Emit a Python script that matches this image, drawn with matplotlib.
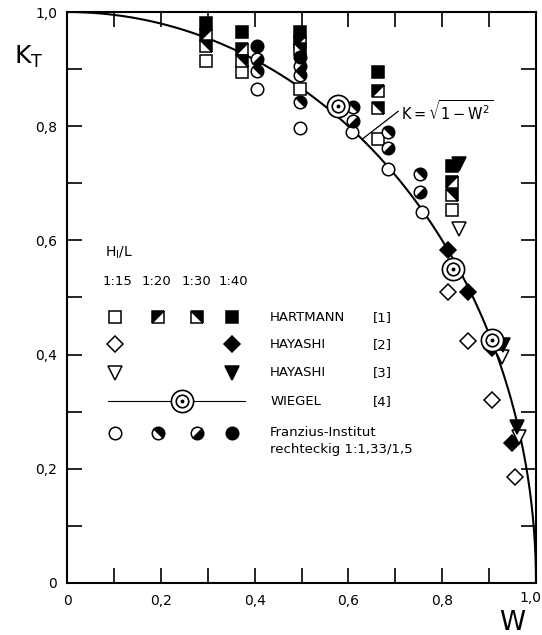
import numpy as np
import matplotlib
matplotlib.use('Agg')
import matplotlib.pyplot as plt
from matplotlib.markers import MarkerStyle
from matplotlib.transforms import Affine2D, ScaledTranslation

plt.rcParams['font.family'] = ['DejaVu Sans']

# Hartmann [1], squares, one column of W values, K per slope H_I/L
hart_w = [0.296, 0.373, 0.497, 0.663, 0.821]
hart_15 = [0.915, 0.895, 0.865, 0.777, 0.654]
hart_20 = [0.960, 0.935, 0.948, 0.861, 0.703]
hart_30 = [0.940, 0.915, 0.935, 0.832, 0.680]
hart_40 = [0.980, 0.965, 0.965, 0.895, 0.730]

# Hayashi [2], diamonds
hay2_w_15 = [0.812, 0.855, 0.906, 0.955]
hay2_k_15 = [0.509, 0.423, 0.321, 0.186]
hay2_w_40 = [0.812, 0.855, 0.906, 0.949]
hay2_k_40 = [0.584, 0.509, 0.412, 0.246]

# Hayashi [3], triangles
hay3_w_15 = [0.836, 0.928, 0.964]
hay3_k_15 = [0.620, 0.395, 0.256]
hay3_w_40 = [0.836, 0.930, 0.959]
hay3_k_40 = [0.733, 0.416, 0.274]

# Wiegel [4]
wiegel_w = [0.578, 0.823, 0.906]
wiegel_k = [0.835, 0.550, 0.426]

# Franzius-Institut, circles
fr_w_15 = [0.405, 0.497, 0.608, 0.684, 0.757]
fr_k_15 = [0.865, 0.797, 0.790, 0.725, 0.650]
fr_w_20 = [0.405, 0.497, 0.497, 0.610, 0.684, 0.753]
fr_k_20 = [0.896, 0.890, 0.842, 0.833, 0.790, 0.717]
fr_w_30 = [0.405, 0.497, 0.610, 0.684, 0.753]
fr_k_30 = [0.918, 0.905, 0.809, 0.761, 0.684]
fr_w_40 = [0.405, 0.497]
fr_k_40 = [0.940, 0.922]

tick_vals = [0, 0.2, 0.4, 0.6, 0.8, 1.0]
tick_labels = ['0', '0,2', '0,4', '0,6', '0,8', '1,0']

# half filled markers (diagonal split)
sq20 = MarkerStyle('D', fillstyle='left', transform=Affine2D().rotate_deg(-45))
sq30 = MarkerStyle('D', fillstyle='top', transform=Affine2D().rotate_deg(-45))
ci20 = MarkerStyle('o', fillstyle='top', transform=Affine2D().rotate_deg(-45))
ci30 = MarkerStyle('o', fillstyle='bottom', transform=Affine2D().rotate_deg(45))

fig = plt.figure(figsize=(5.42, 6.35), dpi=100)
ax = fig.add_axes([67 / 542, 1 - 583 / 635, 469 / 542, 571 / 635])

# theoretical curve K = sqrt(1 - W^2)
t = np.linspace(0, np.pi / 2, 400)
ax.plot(np.sin(t), np.cos(t), color='black', lw=1.5, zorder=2)
ax.plot([0.629, 0.706], [0.777, 0.826], color='black', lw=0.9, zorder=2)
ax.text(0.712, 0.826, r'$\mathrm{K=\sqrt{1-W^{2}}}$', fontsize=10.5, va='center', ha='left')

ms_sq = 8.5
ms_ci = 9
kw = dict(ls='none', mec='black', mew=1.1, zorder=4)


def draw_set(x, y, marker, ms, kind):
    if kind == 'open':
        ax.plot(x, y, marker=marker, ms=ms, mfc='white', **kw)
    elif kind == 'full':
        ax.plot(x, y, marker=marker, ms=ms, mfc='black', **kw)
    else:
        ax.plot(x, y, marker=marker, ms=ms, mfc='black', mfcalt='white', **kw)


# data
draw_set(hart_w, hart_15, 's', ms_sq, 'open')
draw_set(hart_w, hart_20, sq20, ms_sq, 'half')
draw_set(hart_w, hart_30, sq30, ms_sq, 'half')
draw_set(hart_w, hart_40, 's', ms_sq, 'full')

draw_set(fr_w_15, fr_k_15, 'o', ms_ci, 'open')
draw_set(fr_w_20, fr_k_20, ci20, ms_ci, 'half')
draw_set(fr_w_30, fr_k_30, ci30, ms_ci, 'half')
draw_set(fr_w_40, fr_k_40, 'o', ms_ci, 'full')

draw_set(hay2_w_15, hay2_k_15, 'D', 8, 'open')
draw_set(hay2_w_40, hay2_k_40, 'D', 8, 'full')
draw_set(hay3_w_15, hay3_k_15, 'v', 9.5, 'open')
draw_set(hay3_w_40, hay3_k_40, 'v', 9.5, 'full')

ax.plot(wiegel_w, wiegel_k, 'o', ms=16, mfc='white', mec='black', mew=1.2, zorder=5)
ax.plot(wiegel_w, wiegel_k, 'o', ms=9, mfc='white', mec='black', mew=1.2, zorder=5)
ax.plot(wiegel_w, wiegel_k, 'o', ms=1.8, color='black', zorder=6)

# legend (drawn by hand)
fs = 9.5
cols = [0.102, 0.194, 0.277, 0.352]
ax.text(0.081, 0.579, r'H$_\mathregular{I}$/L', fontsize=10, va='center')
for xc, lab in zip([0.107, 0.190, 0.275, 0.354], ['1:15', '1:20', '1:30', '1:40']):
    ax.text(xc, 0.528, lab, fontsize=fs, va='center', ha='center')

row_h, row_h2, row_h3, row_w, row_f = 0.465, 0.418, 0.368, 0.318, 0.263
draw_set([cols[0]], [row_h], 's', ms_sq, 'open')
draw_set([cols[1]], [row_h], sq20, ms_sq, 'half')
draw_set([cols[2]], [row_h], sq30, ms_sq, 'half')
draw_set([cols[3]], [row_h], 's', ms_sq, 'full')
draw_set([cols[0]], [row_h2], 'D', 8, 'open')
draw_set([cols[3]], [row_h2], 'D', 8, 'full')
draw_set([cols[0]], [row_h3], 'v', 9.5, 'open')
draw_set([cols[3]], [row_h3], 'v', 9.5, 'full')
ax.plot([0.087, 0.38], [row_w, row_w], color='black', lw=0.8, zorder=3)
ax.plot([0.245], [row_w], 'o', ms=16, mfc='white', mec='black', mew=1.2, zorder=5)
ax.plot([0.245], [row_w], 'o', ms=9, mfc='white', mec='black', mew=1.2, zorder=5)
ax.plot([0.245], [row_w], 'o', ms=1.8, color='black', zorder=6)
draw_set([cols[0]], [row_f], 'o', ms_ci, 'open')
draw_set([cols[1]], [row_f], ci20, ms_ci, 'half')
draw_set([cols[2]], [row_f], ci30, ms_ci, 'half')
draw_set([cols[3]], [row_f], 'o', ms_ci, 'full')

names = ['HARTMANN', 'HAYASHI', 'HAYASHI', 'WIEGEL', 'Franzius-Institut']
refs = ['[1]', '[2]', '[3]', '[4]']
rows = [row_h, row_h2, row_h3, row_w, row_f]
for y, nm in zip(rows, names):
    ax.text(0.433, y, nm, fontsize=fs, va='center', ha='left')
for y, rf in zip(rows[:4], refs):
    ax.text(0.652, y, rf, fontsize=fs, va='center', ha='left')
ax.text(0.433, 0.233, 'rechteckig 1:1,33/1,5', fontsize=fs, va='center', ha='left')

# axes
ax.set_xlim(0, 1)
ax.set_ylim(0, 1)
ax.set_xticks(tick_vals)
ax.set_xticklabels(tick_labels)
ax.set_yticks(tick_vals)
ax.set_yticklabels(tick_labels)
ax.set_xticks(np.arange(0.1, 1.0, 0.2), minor=True)
ax.set_yticks(np.arange(0.1, 1.0, 0.2), minor=True)
ax.tick_params(which='both', direction='in', length=11, width=1.2,
               top=True, right=True, labelsize=10)
ax.tick_params(axis='x', pad=8)
ax.tick_params(axis='y', pad=7)
for sp in ax.spines.values():
    sp.set_linewidth(1.5)

# last x label sits at the right edge, keep it inside the figure
last = ax.get_xticklabels()[-1]
last.set_horizontalalignment('right')
last.set_transform(last.get_transform() + ScaledTranslation(5 / 100, 3 / 100, fig.dpi_scale_trans))

fig.text(14 / 542, 1 - 64 / 635, r'$\mathregular{K_T}$', fontsize=18, ha='left', va='baseline')
fig.text(512 / 542, 1 - 623 / 635, 'W', fontsize=19, ha='center', va='center')

fig.savefig('out.png', dpi=100)
